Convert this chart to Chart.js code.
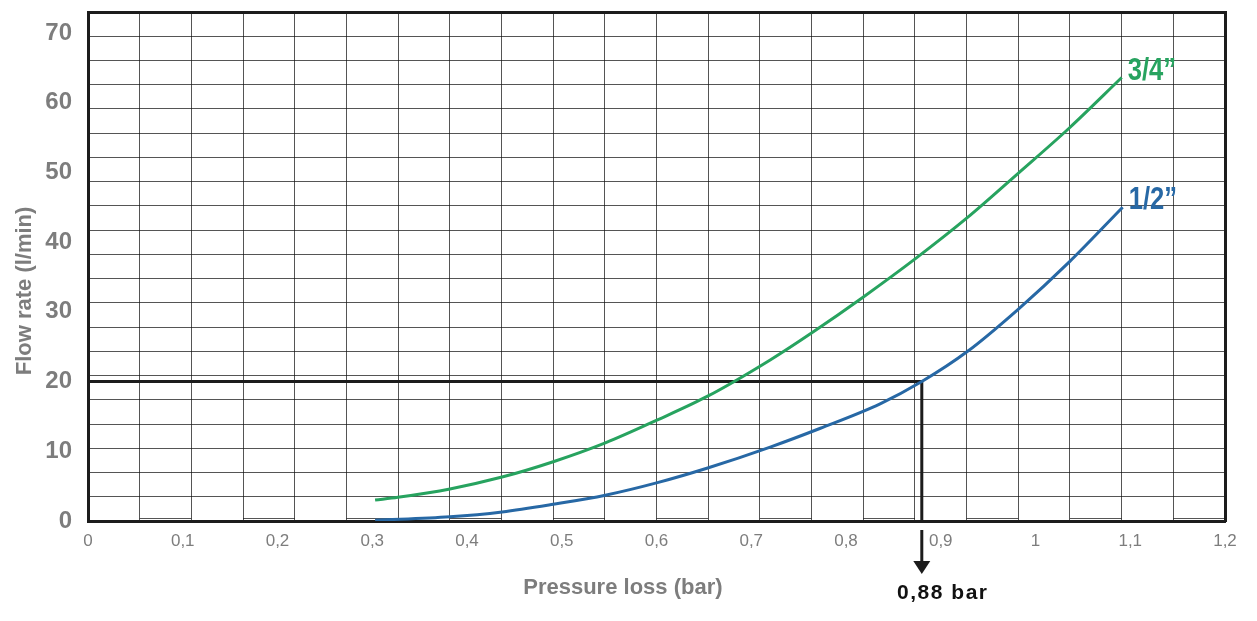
<!DOCTYPE html>
<html>
<head>
<meta charset="utf-8">
<script src="https://cdn.jsdelivr.net/npm/chart.js@4.4.1/dist/chart.umd.min.js"></script>
<style>
  html, body { margin: 0; padding: 0; background: #fff; }
  #wrap { width: 1257px; height: 621px; }
</style>
</head>
<body>
<div id="wrap"><canvas id="flowChart"></canvas></div>
<script>
// pressure loss (bar) -> flow rate (l/min)
const pressure34 = [0.303, 0.327, 0.382, 0.437, 0.491, 0.546, 0.601, 0.654, 0.720, 0.764, 0.818, 0.874, 0.928, 0.982, 1.036, 1.091];
const flow34     = [3.0, 3.4, 4.6, 6.3, 8.5, 11.2, 14.5, 17.9, 23.1, 27.0, 32.1, 37.7, 43.5, 49.9, 56.4, 63.6];

const pressure12 = [0.303, 0.382, 0.437, 0.491, 0.546, 0.601, 0.654, 0.720, 0.773, 0.836, 0.880, 0.928, 0.982, 1.036, 1.092];
const flow12     = [0.1, 0.6, 1.3, 2.4, 3.7, 5.5, 7.6, 10.6, 13.3, 16.8, 20.0, 24.3, 30.4, 37.2, 45.0];

// example reading: 20 l/min through 1/2" gives 0.88 bar
const refFlow = 20;
const refPressure = 0.88;

const xTicks = [0, 0.1, 0.2, 0.3, 0.4, 0.5, 0.6, 0.7, 0.8, 0.9, 1, 1.1, 1.2];
const yTicks = [0, 10, 20, 30, 40, 50, 60, 70];
const gridCols = 22;
const gridRows = 21;

const grey = '#7d7d7d';
const ink = '#1c1c1c';
const gridColor = 'rgba(20,20,20,0.72)';
const sans = '"Liberation Sans", Arial, sans-serif';

const toPoints = (xs, ys) => xs.map((x, i) => ({ x: x, y: ys[i] }));
const comma = v => String(Math.round(v * 100) / 100).replace('.', ',');

const extras = {
  id: 'extras',
  beforeDatasetsDraw(chart) {
    // little bottoms on every other column of the grid
    const { ctx, chartArea } = chart;
    const gx = chart.scales.x2;
    ctx.save();
    ctx.strokeStyle = gridColor;
    ctx.lineWidth = 1;
    ctx.beginPath();
    for (let j = 1; j < gridCols; j += 2) {
      ctx.moveTo(gx.getPixelForValue(j), chartArea.bottom - 2.5);
      ctx.lineTo(gx.getPixelForValue(j + 1), chartArea.bottom - 2.5);
    }
    ctx.stroke();
    ctx.restore();
  },
  afterDatasetsDraw(chart) {
    const { ctx, chartArea } = chart;
    ctx.save();
    // labels at the end of each curve (condensed look)
    ctx.font = 'bold 32px ' + sans;
    ctx.textAlign = 'left';
    ctx.textBaseline = 'alphabetic';
    chart.data.datasets.forEach((ds, i) => {
      if (!ds.endLabel) return;
      const pts = chart.getDatasetMeta(i).data;
      const last = pts[pts.length - 1];
      ctx.save();
      ctx.translate(last.x + 6, last.y + 2);
      ctx.scale(0.8, 1);
      ctx.fillStyle = ds.borderColor;
      ctx.fillText(ds.label, 0, 0);
      ctx.restore();
    });

    // arrow under the axis and the reading
    const px = chart.scales.x.getPixelForValue(refPressure);
    const b = chartArea.bottom;
    ctx.strokeStyle = ink;
    ctx.fillStyle = ink;
    ctx.lineWidth = 3;
    ctx.beginPath();
    ctx.moveTo(px, b + 9);
    ctx.lineTo(px, b + 42);
    ctx.stroke();
    ctx.beginPath();
    ctx.moveTo(px - 8.5, b + 40);
    ctx.lineTo(px + 8.5, b + 40);
    ctx.lineTo(px, b + 53);
    ctx.closePath();
    ctx.fill();

    ctx.font = 'bold 21px ' + sans;
    ctx.letterSpacing = '1.5px';
    ctx.textAlign = 'center';
    ctx.textBaseline = 'middle';
    ctx.fillStyle = '#111';
    ctx.fillText(comma(refPressure) + ' bar', px + 21, b + 72);
    ctx.restore();
  }
};

new Chart(document.getElementById('flowChart'), {
  type: 'line',
  data: {
    datasets: [
      {
        label: '3/4\u201d',
        data: toPoints(pressure34, flow34),
        borderColor: '#27a35f',
        borderWidth: 3,
        pointRadius: 0,
        cubicInterpolationMode: 'monotone',
        endLabel: true
      },
      {
        label: '1/2\u201d',
        data: toPoints(pressure12, flow12),
        borderColor: '#2768a5',
        borderWidth: 3,
        pointRadius: 0,
        cubicInterpolationMode: 'monotone',
        endLabel: true
      },
      {
        label: 'reading',
        data: [{ x: 0, y: refFlow }, { x: refPressure, y: refFlow }, { x: refPressure, y: 0 }],
        borderColor: ink,
        borderWidth: 3,
        borderJoinStyle: 'miter',
        pointRadius: 0,
        tension: 0
      }
    ]
  },
  options: {
    responsive: true,
    maintainAspectRatio: false,
    animation: false,
    layout: { padding: 0 },
    plugins: { legend: { display: false }, tooltip: { enabled: false } },
    scales: {
      x: {
        type: 'linear',
        position: 'bottom',
        min: xTicks[0],
        max: xTicks[xTicks.length - 1],
        afterBuildTicks: s => { s.ticks = xTicks.map(v => ({ value: v })); },
        afterFit: s => { s.height = 100; s.paddingLeft = 0; s.paddingRight = 0; },
        grid: { display: false, drawTicks: false },
        border: { display: true, width: 3, color: ink },
        ticks: {
          padding: 10,
          autoSkip: false,
          maxRotation: 0,
          color: grey,
          font: { family: sans, size: 17 },
          callback: v => comma(v)
        },
        title: {
          display: true,
          text: 'Pressure loss (bar)' + '\u00a0'.repeat(11),
          color: grey,
          font: { family: sans, size: 22, weight: 'bold' },
          padding: { top: 0, bottom: 20 }
        }
      },
      y: {
        type: 'linear',
        position: 'left',
        min: 0,
        max: 73,
        afterBuildTicks: s => { s.ticks = yTicks.map(v => ({ value: v })); },
        afterFit: s => { s.width = 88; s.paddingTop = 0; s.paddingBottom = 0; },
        grid: { display: false, drawTicks: false },
        border: { display: true, width: 3, color: ink },
        ticks: {
          padding: 16,
          color: grey,
          font: { family: sans, size: 24, weight: 'bold' }
        },
        title: {
          display: true,
          text: 'Flow rate (l/min)' + '\u00a0'.repeat(8),
          color: grey,
          font: { family: sans, size: 22, weight: 'bold' },
          padding: { top: 12, bottom: 0 }
        }
      },
      x2: {
        type: 'linear',
        position: 'top',
        min: 0,
        max: gridCols,
        afterFit: s => { s.height = 12; s.paddingLeft = 0; s.paddingRight = 0; },
        ticks: { display: false, stepSize: 1, autoSkip: false },
        grid: {
          drawTicks: false,
          lineWidth: 1,
          color: c => (c.tick && (c.tick.value === 0 || c.tick.value === gridCols) ? 'rgba(0,0,0,0)' : gridColor)
        },
        border: { display: true, width: 3, color: ink }
      },
      y2: {
        type: 'linear',
        position: 'right',
        min: 0,
        max: gridRows,
        afterFit: s => { s.width = 32; s.paddingTop = 0; s.paddingBottom = 0; },
        ticks: { display: false, stepSize: 1, autoSkip: false },
        grid: {
          drawTicks: false,
          lineWidth: 1,
          color: c => (c.tick && (c.tick.value === 0 || c.tick.value === gridRows) ? 'rgba(0,0,0,0)' : gridColor)
        },
        border: { display: true, width: 3, color: ink }
      }
    }
  },
  plugins: [extras]
});
</script>
</body>
</html>
